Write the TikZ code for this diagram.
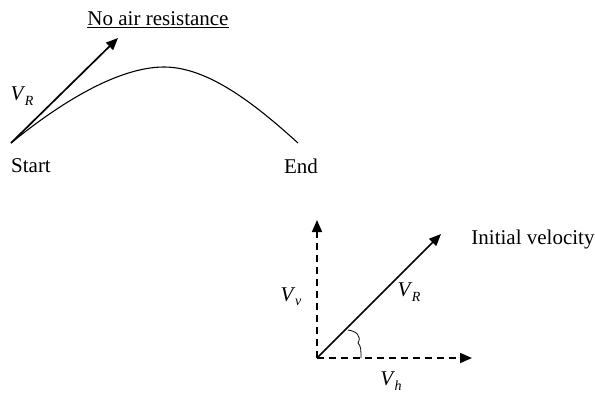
\documentclass[tikz,border=0pt]{standalone}
\usepackage{fontspec}
\setmainfont{Liberation Serif}
\usetikzlibrary{arrows.meta}
\newcommand\Vsubs[1]{\textit{V}\kern-0.5pt\raisebox{-0.45ex}{\fontsize{14}{14}\selectfont\itshape #1}}
\tikzset{
  vec/.style={line width=1.7pt,-{Triangle[length=12pt,width=10pt]}},
  dvec/.style={line width=1.7pt,dash pattern=on 7pt off 5pt,-{Triangle[length=12pt,width=10pt]}},
  lbl/.style={font=\fontsize{21}{23}\selectfont,inner sep=0pt}
}
\begin{document}
\begin{tikzpicture}[x=1pt,y=-1pt]
\useasboundingbox (0,0) rectangle (595,392);
% top trajectory
\coordinate (start) at (11,143);
\coordinate (tipA) at (118,38);
\coordinate (peak) at (164,67);
\coordinate (endp) at (298,143);
\draw[line width=1.1pt] (start) .. controls (60,103) and (118,67) .. (peak)
   .. controls (208,67) and (255,104) .. (endp);
\draw[vec] (start) -- (tipA);
\node[lbl] (title) at (158,20) {\underline{No air resistance}};
\node[lbl] (vr1) at (22,96) {\Vsubs{R}};
\node[lbl] (startl) at (31,166) {Start};
\node[lbl] (endl) at (301,166) {End};
% bottom vector diagram
\coordinate (O) at (317,358);
\coordinate (Vt) at (317,220);
\coordinate (Ht) at (472,358);
\coordinate (Dt) at (441,234);
\draw[dvec] (O) -- (Vt);
\draw[dvec] (O) -- (Ht);
\draw[vec] (O) -- (Dt);
\draw[line width=0.8pt] (348,330) .. controls (356,331) and (362,336) .. (358,343) .. controls (361,346) and (361,350) .. (361,358);
\node[lbl] (iv) at (533,239) {Initial velocity};
\node[lbl] (vr2) at (409,292) {\Vsubs{R}};
\node[lbl] (vv) at (291,297) {\Vsubs{v}};
\node[lbl] (vh) at (391,381) {\Vsubs{h}};
\end{tikzpicture}
\end{document}
